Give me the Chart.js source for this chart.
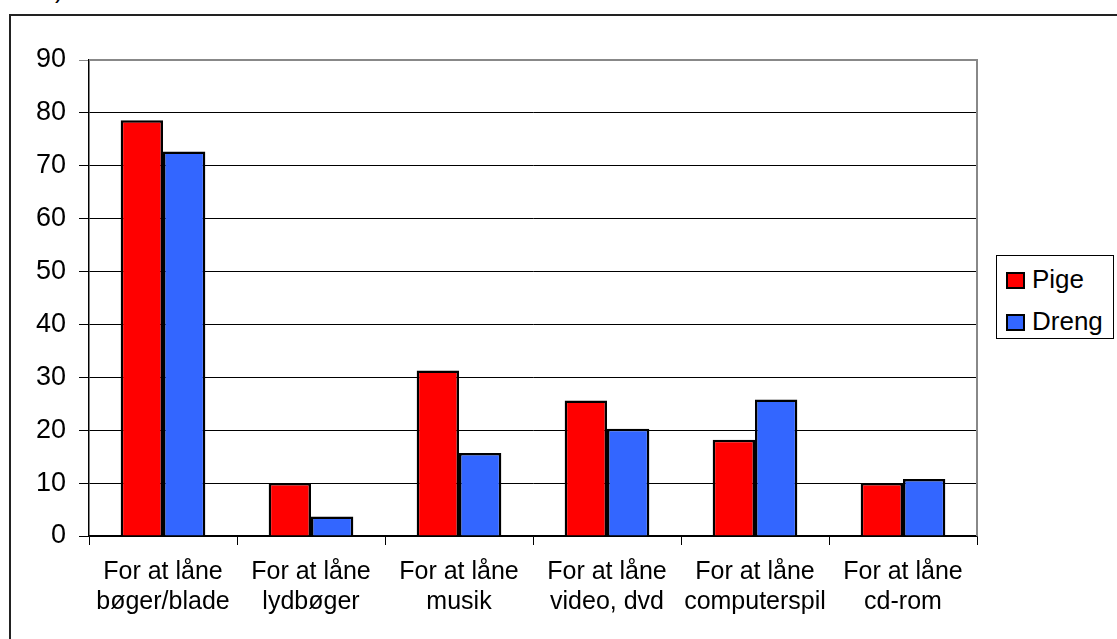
<!DOCTYPE html>
<html>
<head>
<meta charset="utf-8">
<script src="https://cdn.jsdelivr.net/npm/chart.js@4.4.1/dist/chart.umd.min.js"></script>
<style>
  html, body { margin: 0; padding: 0; background: #fff; overflow: hidden; width: 1117px; height: 639px; }
  body { position: relative; font-family: "Liberation Sans", Arial, sans-serif; }
  #frame { position: absolute; left: 9px; top: 14px; width: 1300px; height: 800px; border: 2px solid #222; box-sizing: border-box; }
  #title { position: absolute; left: 41px; top: -23px; font-size: 25px; line-height: 25px; color: #000; }
  #wrap { position: absolute; left: 0; top: 0; width: 1117px; height: 639px; }
  #legend { position: absolute; left: 996px; top: 255px; width: 118px; height: 84px; border: 1px solid #000; box-sizing: border-box; background: #fff; }
  .item { position: absolute; left: 9px; font-size: 26px; line-height: 26px; color: #000; white-space: nowrap; }
  .item span.sw { display: inline-block; width: 19px; height: 17px; border: 2px solid #000; box-sizing: border-box; margin-right: 7px; vertical-align: -1px; }
</style>
</head>
<body>
<div id="frame"></div>
<div id="title">a)</div>
<div id="wrap"><canvas id="myChart" width="1117" height="639"></canvas></div>
<div id="legend">
  <div class="item" style="top:10px"><span class="sw" style="background:#ff0000"></span>Pige</div>
  <div class="item" style="top:52px"><span class="sw" style="background:#3366ff"></span>Dreng</div>
</div>
<script>
// data
var categories = [
  ['For at låne', 'bøger/blade'],
  ['For at låne', 'lydbøger'],
  ['For at låne', 'musik'],
  ['For at låne', 'video, dvd'],
  ['For at låne', 'computerspil'],
  ['For at låne', 'cd-rom']
];
var pige = [78.6, 10.0, 31.3, 25.6, 18.2, 10.0];
var dreng = [72.7, 3.7, 15.7, 20.3, 25.8, 10.8];
var yMin = 0, yMax = 90, yStep = 10;

var XFONT = { family: '"Liberation Sans", Arial, sans-serif', size: 25 };
var YFONT = { family: '"Liberation Sans", Arial, sans-serif', size: 27 };

// gray frame on top and right of the plot area
var plotBorder = {
  id: 'plotBorder',
  afterDraw: function(chart) {
    var a = chart.chartArea, ctx = chart.ctx;
    ctx.save();
    ctx.strokeStyle = '#888888';
    ctx.lineWidth = 2;
    ctx.beginPath();
    ctx.moveTo(a.left, a.top);
    ctx.lineTo(a.right, a.top);
    ctx.lineTo(a.right, a.bottom);
    ctx.stroke();
    ctx.restore();
  }
};

var data = {
  labels: categories,
  datasets: [
    { label: 'Pige', data: pige, backgroundColor: '#ff0000', borderColor: '#000', borderWidth: 2.5 },
    { label: 'Dreng', data: dreng, backgroundColor: '#3366ff', borderColor: '#000', borderWidth: 2.5 }
  ]
};

var config = {
  type: 'bar',
  data: data,
  plugins: [plotBorder],
  options: {
    responsive: false,
    animation: false,
    devicePixelRatio: 1,
    categoryPercentage: 0.572,
    barPercentage: 1,
    layout: { padding: { left: 0, top: 60, right: 140, bottom: 0 } },
    plugins: {
      legend: { display: false },
      tooltip: { enabled: false }
    },
    scales: {
      x: {
        offset: true,
        grid: { display: true, drawOnChartArea: false, drawTicks: true, tickLength: 9, color: '#000', offset: true },
        border: { display: true, color: '#000', width: 1.5 },
        ticks: { font: XFONT, color: '#000', padding: 12, maxRotation: 0, autoSkip: false },
        afterFit: function(s) { s.height = 103; }
      },
      y: {
        min: yMin,
        max: yMax,
        grid: {
          color: function(c) { return c.tick && c.tick.value === yMax ? '#888888' : '#000'; },
          lineWidth: 1,
          tickLength: 10,
          drawTicks: true
        },
        border: { display: true, color: '#000', width: 1.5 },
        ticks: { stepSize: yStep, font: YFONT, color: '#000', padding: 13 },
        afterFit: function(s) { s.width = 89; }
      }
    }
  }
};

var myChart = new Chart(document.getElementById('myChart'), config);
</script>
</body>
</html>
